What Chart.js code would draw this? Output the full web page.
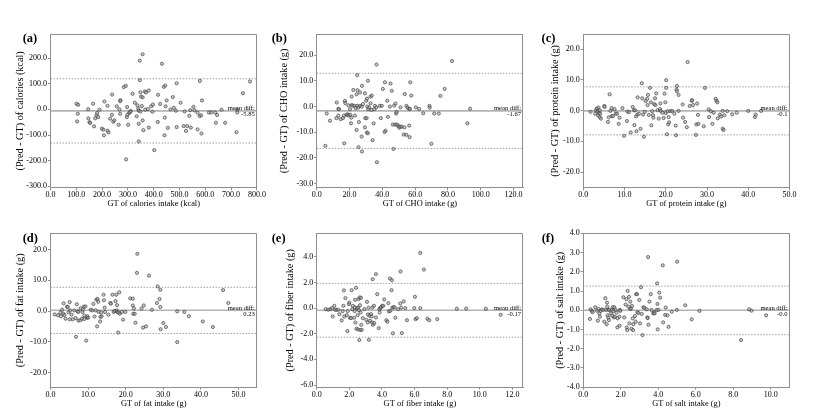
<!DOCTYPE html>
<html><head><meta charset="utf-8">
<script src="https://cdn.jsdelivr.net/npm/chart.js@4.4.1/dist/chart.umd.min.js"></script>
<style>
html,body{margin:0;padding:0;background:#fff;}
#wrap{position:relative;width:830px;height:420px;overflow:hidden;background:#fff;}
canvas{position:absolute;}
</style></head><body><div id="wrap"></div>
<script>
// ---------- DATA ----------
const panelTags = ['(a)', '(b)', '(c)', '(d)', '(e)', '(f)'];
const xTitles = ['GT of calories intake (kcal)', 'GT of CHO intake (g)', 'GT of protein intake (g)',
                 'GT of fat intake (g)', 'GT of fiber intake (g)', 'GT of salt intake (g)'];
const yTitles = ['(Pred - GT) of calories (kcal)', '(Pred - GT) of CHO intake (g)', '(Pred - GT) of protein intake (g)',
                 '(Pred - GT) of fat intake (g)', '(Pred - GT) of fiber intake (g)', '(Pred - GT) of salt intake (g)'];
const meanDiffs = [-5.85, -1.67, -0.1, 0.23, -0.17, -0.0];
const meanLabels = ['-5.85', '-1.67', '-0.1', '0.23', '-0.17', '-0.0'];
const upperLoA = [119.5, 13.0, 7.7, 7.7, 1.93, 1.26];
const lowerLoA = [-131.2, -16.3, -7.9, -7.3, -2.27, -1.27];
const xMaxes = [800, 125.8, 50, 54.9, 12.65, 11.0];
const yMins = [-305.85, -31.67, -25.1, -24.77, -6.17, -4.0];
const yMaxes = [294.15, 28.33, 24.9, 25.23, 5.83, 4.0];

const xTickSets = [
  [0, 100, 200, 300, 400, 500, 600, 700, 800],
  [0, 20, 40, 60, 80, 100, 120],
  [0, 10, 20, 30, 40, 50],
  [0, 10, 20, 30, 40, 50],
  [0, 2, 4, 6, 8, 10, 12],
  [0, 2, 4, 6, 8, 10]
];
const yTickSets = [
  [-300, -200, -100, 0, 100, 200],
  [-30, -20, -10, 0, 10, 20],
  [-20, -10, 0, 10, 20],
  [-20, -10, 0, 10, 20],
  [-6, -4, -2, 0, 2, 4],
  [-4, -3, -2, -1, 0, 1, 2, 3, 4]
];

const calGT = [101,107,106,103,146,147,151,154,165,169,178,173,185,190,181,199,205,207,209,221,221,225,231,239,238,243,248,257,264,270,267,271,270,284,292,297,296,298,301,305,311,309,318,293,327,334,337,340,342,342,342,346,346,357,349,351,357,354,349,357,360,366,370,367,377,381,381,390,397,395,402,417,416,425,432,439,445,443,442,446,450,455,465,474,478,486,489,489,504,516,520,525,530,538,542,544,554,558,570,570,578,579,584,587,585,614,623,638,641,646,663,677,721,723,724,746,773];
const calDiff = [22,18,-17,-47,1,-35,-50,-53,22,-66,-23,-35,-30,-1,-14,-75,-79,-101,31,14,-83,-90,-36,58,-21,-48,-43,12,-60,-17,0,36,32,87,92,9,-30,-21,-60,-14,-6,-10,61,-195,26,-27,16,3,-5,-56,-125,114,190,215,67,50,47,13,-8,-43,-81,70,66,-1,1,74,-71,12,19,-9,-159,57,-49,21,178,88,93,-32,-101,12,35,-72,0,48,6,-5,102,-69,26,-65,-8,-84,-65,-25,-3,-71,10,-4,-13,-78,-26,111,-23,35,-94,-12,-12,-12,-52,-22,-1,-52,-89,-1,-12,63,109];

const choGT = [5.3,6.1,8.1,12.2,12.0,13.2,13.2,13.6,14.6,16.0,16.6,17.2,17.4,16.8,18.2,18.9,19.3,19.5,20.3,20.5,20.9,21.3,21.3,21.1,21.9,22.3,22.9,23.3,23.7,24.3,24.3,24.7,24.9,24.7,25.3,25.5,25.7,26.4,26.4,27.4,27.4,27.6,27.6,28.2,29.4,29.4,29.6,30.2,30.4,30.6,30.6,31.2,30.8,31.2,31.4,32.0,32.8,32.8,33.4,33.6,34.1,34.7,35.1,35.5,36.3,36.5,36.7,38.5,39.1,39.7,40.3,41.4,41.6,42.0,43.0,43.4,44.6,45.0,45.8,46.4,46.8,47.2,47.8,48.0,48.4,48.7,48.9,49.7,50.3,50.9,51.1,51.9,53.7,53.1,53.5,54.7,54.7,55.3,56.4,56.6,57.0,57.6,56.4,56.8,60.4,62.4,64.9,68.7,68.9,69.9,71.6,74.4,75.4,78.0,82.5,91.8,93.5];
const choDiff = [-15.3,-2.7,-5.5,1.6,-4.5,-0.9,-3.5,-1.0,-4.9,-4.5,-3.5,2.2,1.4,-14.3,-3.2,-3.0,0.5,-3.4,-1.0,-3.2,-6.5,0.6,3.9,-4.3,0.4,6.5,0.3,-3.5,-0.6,-9.1,4.8,12.3,6.4,0.3,-0.4,-15.8,-6.0,5.5,0.3,0,-11.7,8.1,-17.5,1.0,5.2,-8.1,-4.5,2.3,-4.5,3.1,-10.1,-10.4,0,10.1,-1.0,-0.3,3.9,1.3,-1.3,4.3,-13.1,-6.5,-1.0,0.3,-0.3,16.4,-21.7,0.3,-4.5,0.3,6.9,-9.9,9.5,-9.4,2.3,-4.0,0,9.0,6.2,-7.0,-16.5,0.4,-7.0,1.2,-2.7,-2.1,-7.0,-7.5,-8.2,-7.9,-0.3,-7.8,4.9,-10.9,-8.1,0.3,-11.0,-0.4,-7.4,-11.9,9.5,4.3,-0.9,-0.9,-0.3,-0.9,-2.6,0.3,-0.4,-14.5,-2.7,-2.7,4.2,6.9,17.8,-6.5,-0.8];

const proGT = [1.8,2.9,3.1,3.3,3.5,3.6,3.7,3.8,4.0,4.0,4.1,4.3,5.1,5.2,6.0,6.2,6.4,6.6,6.9,6.9,7.2,7.6,7.9,8.2,8.6,8.8,9.9,9.5,10.6,10.7,11.1,11.5,12.0,12.3,12.4,12.6,12.8,12.9,13.1,13.2,13.5,13.9,14.2,14.3,14.5,14.7,14.9,15.1,15.5,15.6,15.7,15.9,16.2,16.4,16.5,16.7,16.9,17.0,17.2,17.4,17.5,17.7,18.0,18.3,18.6,18.7,18.8,19.2,19.5,19.7,19.9,20.0,20.1,20.1,20.3,20.4,20.6,20.7,20.8,21.1,21.5,22.1,22.4,22.5,22.7,22.6,22.7,23.1,23.1,24.1,24.2,24.7,25.1,25.3,25.8,26.3,26.4,26.6,27.3,27.4,27.6,27.8,27.9,29.2,29.5,30.4,30.5,30.9,31.3,31.6,32.1,32.3,32.5,32.6,33.1,33.4,33.8,33.8,34.0,34.2,34.9,36.1,37.2,40.0,41.6,41.8,43.1];
const proDiff = [-0.4,-1.0,0.1,0.7,-0.2,-1.5,1.0,-0.8,-2.1,0.1,-1.0,-2.6,1.5,1.2,-3.7,-2.2,5.3,-0.1,-1.8,0.8,-1.8,0.5,-1.0,-1.0,-4.3,-2.3,-8.2,0.8,-3.4,-0.3,-0.5,-7.1,1.2,0.1,-4.7,0.1,-1.9,-6.7,-1.3,4.3,-1.0,-5.9,8.9,4.0,-1.3,-8.5,-0.4,3.1,3.8,1.8,5.1,-1.4,7.4,2.7,-4.8,-0.2,-1.5,-2.3,2.1,4.0,1.8,5.6,0.1,-2.6,0.5,2.3,-0.1,-0.7,-2.4,5.5,2.7,-0.8,9.9,7.4,-7.7,-0.2,-4.5,-2.1,-3.8,-0.2,-0.1,-1.0,-4.9,-8.0,8.0,6.8,6.3,5.1,-0.1,2.0,-2.3,-3.7,-5.4,15.8,1.5,3.2,3.4,1.8,-7.9,-4.5,2.3,-1.4,-4.3,-5.1,7.4,0.4,-2.1,-0.2,-4.3,-0.7,3.8,3.2,2.7,-2.5,-1.3,-1.9,-0.1,-5.9,-6.3,-1.5,-0.2,-1.2,-0.7,-0.1,-2.1,-1.3,-0.1];

const fatGT = [1.1,2.0,2.6,2.8,3.1,3.4,3.5,3.7,4.0,4.4,4.6,4.8,5.1,5.1,5.2,5.6,5.9,6.3,6.7,6.8,7.0,7.2,7.4,7.4,7.9,8.0,8.4,8.5,8.6,8.9,9.0,9.0,9.3,9.5,9.7,9.8,10.0,10.7,11.1,11.4,11.7,12.0,12.2,12.4,12.5,12.7,12.8,13.2,13.3,13.5,13.6,14.1,14.2,14.4,14.5,15.4,15.9,16.1,16.5,16.8,17.1,17.3,17.5,17.6,17.7,17.8,18.0,18.1,18.3,18.4,19.0,19.3,19.9,21.2,21.9,21.9,22.0,22.2,22.4,22.6,23.0,23.1,24.2,24.6,24.8,25.4,26.2,27.0,28.3,28.5,29.0,29.2,29.2,29.3,30.0,30.7,33.7,33.7,35.6,36.8,40.5,43.2,45.9,47.3];
const fatDiff = [-1.1,-1.4,-0.5,-1.7,0.4,-0.9,2.5,-1.3,-2.5,1.4,1.3,-0.4,2.9,-2.7,0.2,-1.2,-2.7,0.2,-2.3,-8.4,2.2,-0.1,-0.3,-3.1,-3.0,0.9,-2.5,-0.3,0.5,1.4,-2.6,-1.5,1.5,-9.6,-2.2,-1.7,-2.2,0.4,0.2,2.3,-1.8,0.2,3.7,-5.0,3.9,3.0,-0.3,-3.4,-1.9,-0.5,-1.7,5.3,3.5,1.1,-0.3,-1.2,2.6,2.4,5.3,-0.3,0,3.2,5.3,0.2,1.9,-0.3,-7.0,-0.5,6.1,-0.9,-0.3,-2.8,-0.3,4.1,4.0,1.8,-0.9,0.8,-0.9,-3.8,12.4,18.6,0.8,-5.4,1.8,-5.0,11.5,0.4,2.6,8.0,3.9,6.9,1.3,-5.9,-3.9,-5.2,-0.1,-10.1,-0.3,-1.7,-3.4,-5.2,6.8,2.6];

const fibGT = [0.55,0.71,0.84,0.94,0.98,1.08,1.14,1.22,1.33,1.39,1.53,1.59,1.63,1.67,1.69,1.76,1.84,1.88,1.90,1.98,2.0,2.04,2.10,2.14,2.18,2.22,2.29,2.33,2.35,2.35,2.37,2.41,2.43,2.47,2.51,2.53,2.55,2.57,2.59,2.61,2.63,2.65,2.67,2.69,2.71,2.73,2.76,2.82,2.92,3.04,3.08,3.12,3.14,3.18,3.20,3.24,3.27,3.33,3.37,3.39,3.41,3.43,3.45,3.51,3.53,3.63,3.63,3.71,3.80,3.84,3.86,3.90,3.94,4.02,4.08,4.14,4.27,4.33,4.39,4.43,4.49,4.51,4.59,4.61,4.63,4.67,4.71,4.78,4.82,5.0,5.12,5.14,5.18,5.22,5.33,5.43,5.53,5.98,6.02,6.06,6.14,6.35,6.35,6.57,6.78,6.90,7.39,8.59,9.16,10.37,11.27];
const fibDiff = [-0.08,-0.13,-0.08,0,-0.65,0.18,-0.13,-0.13,-0.13,-0.47,-0.96,-0.23,0.18,1.38,-0.65,0.78,-0.55,-1.79,-0.23,0.31,0.44,-0.75,-0.78,1.40,-0.08,0.18,-0.75,-0.23,0.05,0.65,-1.12,1.58,-1.61,0,-0.55,-1.66,0.05,0.70,-0.16,-2.49,0.83,0.23,-1.71,-0.34,0.81,-1.30,-1.69,-0.78,-0.08,-0.91,0.49,-1.12,-0.49,0.03,-2.47,-0.60,-0.99,-0.47,-0.65,-1.12,0.05,2.26,-1.30,0.18,-1.17,2.65,-0.73,1.09,-1.56,-0.08,-0.34,0,0.08,0.18,0.18,0.68,-0.94,-1.06,0.39,-0.26,2.31,-0.21,1.40,2.18,0.03,-1.97,0.08,0.05,-0.75,-0.08,0.36,2.86,0.03,-1.95,0.52,0,-0.94,0,0.88,-0.86,-0.78,4.31,0,3.01,-0.83,-0.94,-0.86,-0.05,-0.03,-0.05,-0.52];

const saltGT = [0.36,0.39,0.46,0.50,0.64,0.73,0.78,0.82,0.86,0.89,0.93,1.0,1.07,1.12,1.18,1.21,1.25,1.27,1.28,1.30,1.34,1.35,1.37,1.39,1.48,1.53,1.55,1.57,1.60,1.64,1.66,1.69,1.73,1.78,1.82,1.84,1.93,1.96,1.94,1.98,2.14,2.19,2.26,2.30,2.32,2.35,2.37,2.41,2.44,2.46,2.50,2.51,2.55,2.57,2.60,2.64,2.66,2.67,2.76,2.80,2.82,2.87,2.89,2.94,2.99,3.03,3.08,3.12,3.16,3.21,3.26,3.39,3.42,3.44,3.46,3.48,3.53,3.60,3.64,3.73,3.78,3.81,3.92,3.94,3.96,3.97,4.01,4.05,4.10,4.24,4.26,4.37,4.40,4.49,4.55,4.72,4.99,5.01,5.44,5.78,6.20,8.41,8.84,8.97,9.75];
const saltDiff = [-0.45,0.05,-0.03,-0.10,0.16,-0.02,-0.54,0.07,-0.16,-0.33,-0.03,0.05,0.02,-0.59,0.63,0.02,-0.73,0.40,0.19,-0.26,-0.38,0.02,-0.51,0.02,-0.16,0.02,-0.28,0.16,-0.05,-0.37,0.16,-0.33,0.02,-0.12,-0.89,-0.42,-0.33,0.02,-0.80,-0.03,0.68,-0.37,0.30,0.58,-0.89,-1.03,1.01,0.19,0.70,-0.68,0.07,0.45,0.09,-0.96,0.23,-0.42,-1.03,-0.72,-0.30,-0.59,0.84,0.84,-0.10,-0.14,0.54,-0.68,1.20,-0.19,-1.29,0.16,0.12,0.05,-0.37,-0.40,2.77,-0.75,0.45,0.84,0.02,-0.16,-0.12,-0.16,0.02,1.40,0.33,-0.99,0.02,0.92,0.66,2.34,-0.63,-0.24,0.14,-0.26,-0.86,-0.07,0.02,2.53,0.26,-0.47,-0.03,-1.55,0.05,-0.02,-0.26];

const gtSeries = [calGT, choGT, proGT, fatGT, fibGT, saltGT];
const diffSeries = [calDiff, choDiff, proDiff, fatDiff, fibDiff, saltDiff];

// ---------- LAYOUT ----------
const COL_X = [0, 266, 533];
const PLOT_L = [50.5, 316.7, 583.2];
const ROW_Y = [0, 199];
const PLOT_T = [34, 233.4];
const PLOT_W = 206.4, PLOT_H = 153.8, XAXIS_H = 22;
const CANVAS_W = 266, CANVAS_H = 212;
const YTITLE_X = [20.7, 284, 555, 20.7, 290.5, 560];
const TAG_X = [22.7, 271.7, 541.5, 22.7, 271.7, 541.7];

const FONT = '"Liberation Serif", "Times New Roman", serif';
const FRAME = '#8e8e8e';
const TICK_FS = 8, XTITLE_FS = 8.4, YTITLE_FS = 10.2;

const annot = {
  id: 'annot',
  afterDraw(chart, args, o) {
    const {ctx, chartArea: a} = chart;
    const y = chart.scales.y;
    ctx.save();
    ctx.strokeStyle = FRAME; ctx.lineWidth = 1;
    ctx.beginPath();
    const t = Math.round(a.top) + 0.5, r = Math.round(a.right) - 0.5;
    ctx.moveTo(a.left, t); ctx.lineTo(r, t); ctx.lineTo(r, a.bottom);
    ctx.stroke();
    const py = y.getPixelForValue(o.mean);
    ctx.fillStyle = '#000';
    ctx.font = '6.6px ' + FONT;
    ctx.textAlign = 'right';
    ctx.textBaseline = 'bottom';
    ctx.fillText('mean diff:', a.right - 2, py + 0.8);
    ctx.textBaseline = 'top';
    ctx.fillText(o.label, a.right - 2, py + 0.3);
    ctx.font = 'bold 12.5px ' + FONT;
    ctx.textAlign = 'left';
    ctx.textBaseline = 'middle';
    ctx.fillText(o.tag, o.tagX, a.top + 5);
    ctx.restore();
  }
};

const wrap = document.getElementById('wrap');
for (let i = 0; i < 6; i++) {
  const col = i % 3, row = Math.floor(i / 3);
  const cx = COL_X[col], cy = ROW_Y[row];
  const yW = PLOT_L[col] - cx;
  const padTop = PLOT_T[row] - cy;
  const padRight = CANVAS_W - yW - PLOT_W;
  const padBottom = CANVAS_H - padTop - PLOT_H - XAXIS_H;
  const cv = document.createElement('canvas');
  cv.width = CANVAS_W; cv.height = CANVAS_H;
  cv.style.left = cx + 'px'; cv.style.top = cy + 'px';
  cv.style.width = CANVAS_W + 'px'; cv.style.height = CANVAS_H + 'px';
  wrap.appendChild(cv);

  const xMax = xMaxes[i];
  const pts = gtSeries[i].map((g, k) => ({x: g, y: diffSeries[i][k]}));
  const hline = (v) => [{x: 0, y: v}, {x: xMax, y: v}];
  const yTitlePad = YTITLE_X[i] - cx - YTITLE_FS * 1.2 / 2;
  const xTitlePadB = XAXIS_H - 16.5 - XTITLE_FS * 1.2 / 2;

  new Chart(cv, {
    type: 'scatter',
    data: {
      datasets: [
        {type: 'line', data: hline(upperLoA[i]), borderColor: '#8a8a8a', borderWidth: 0.8, borderDash: [1.5, 1.5], pointRadius: 0, order: 3},
        {type: 'line', data: hline(lowerLoA[i]), borderColor: '#8a8a8a', borderWidth: 0.8, borderDash: [1.5, 1.5], pointRadius: 0, order: 3},
        {type: 'line', data: hline(meanDiffs[i]), borderColor: '#b3b3b3', borderWidth: 1.6, pointRadius: 0, order: 2},
        {data: pts, pointRadius: 1.6, pointBorderWidth: 0.75, backgroundColor: 'rgba(160,160,160,0.55)', borderColor: 'rgba(55,55,55,0.85)', order: 1}
      ]
    },
    options: {
      responsive: false,
      animation: false,
      events: [],
      layout: {padding: {left: 0, top: padTop, right: padRight, bottom: padBottom}},
      plugins: {
        legend: {display: false},
        tooltip: {enabled: false},
        annot: {mean: meanDiffs[i], label: meanLabels[i], tag: panelTags[i], tagX: TAG_X[i] - cx}
      },
      scales: {
        x: {
          type: 'linear', min: 0, max: xMax,
          afterBuildTicks: s => { s.ticks = xTickSets[i].map(v => ({value: v})); },
          afterFit: s => { s.height = XAXIS_H; s.paddingLeft = 0; s.paddingRight = 0; },
          ticks: {callback: v => Number(v).toFixed(1), font: {family: FONT, size: TICK_FS}, color: '#000', padding: 0, maxRotation: 0, autoSkip: false},
          grid: {drawOnChartArea: false, drawTicks: true, tickLength: 2.5, color: FRAME},
          border: {display: true, color: FRAME, width: 1},
          title: {display: true, text: xTitles[i], font: {family: FONT, size: XTITLE_FS}, color: '#000', padding: {top: 0, bottom: xTitlePadB}}
        },
        y: {
          type: 'linear', min: yMins[i], max: yMaxes[i],
          afterBuildTicks: s => { s.ticks = yTickSets[i].map(v => ({value: v})); },
          afterFit: s => { s.width = yW; s.paddingTop = 0; s.paddingBottom = 0; },
          ticks: {callback: v => Number(v).toFixed(1), font: {family: FONT, size: TICK_FS}, color: '#000', padding: 1, autoSkip: false},
          grid: {drawOnChartArea: false, drawTicks: true, tickLength: 2.5, color: FRAME},
          border: {display: true, color: FRAME, width: 1},
          title: {display: true, text: yTitles[i], font: {family: FONT, size: YTITLE_FS}, color: '#000', padding: {top: yTitlePad, bottom: 0}}
        }
      }
    },
    plugins: [annot]
  });
}
</script></body></html>
